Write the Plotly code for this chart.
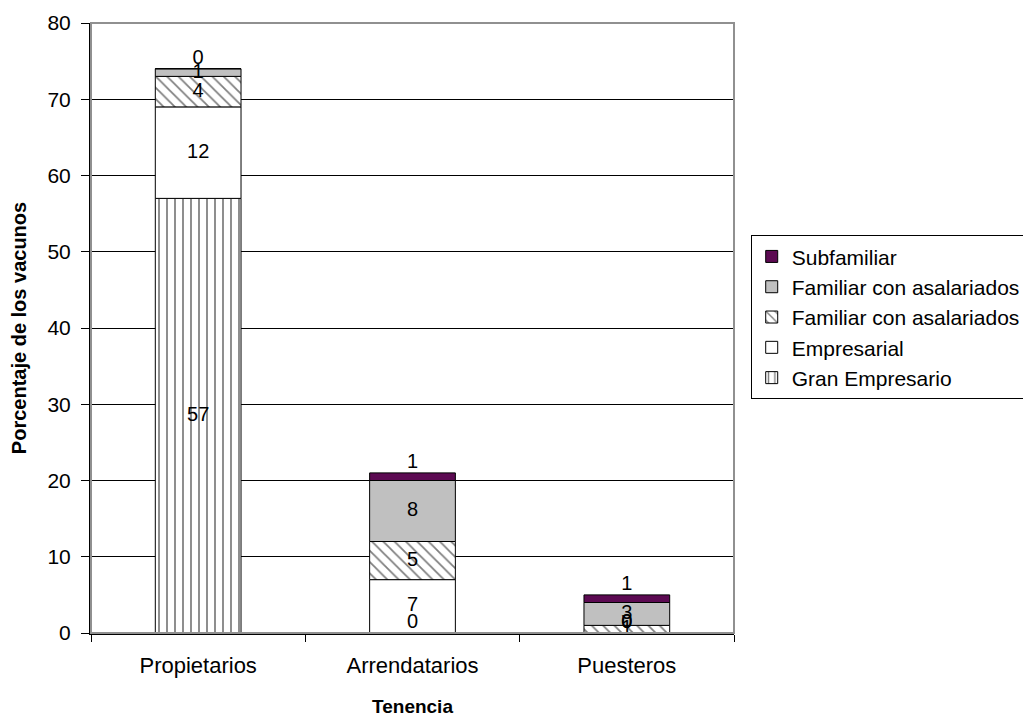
import plotly.graph_objects as go

categories = ["Propietarios", "Arrendatarios", "Puesteros"]
gran_empresario = [57, 0, 0]
empresarial = [12, 7, 0]
familiar_hatched = [4, 5, 1]
familiar_gray = [1, 8, 3]
subfamiliar = [0, 1, 1]
y_ticks = [0, 10, 20, 30, 40, 50, 60, 70, 80]

series = [
    ("Gran Empresario", gran_empresario, "white", "|"),
    ("Empresarial", empresarial, "white", ""),
    ("Familiar con asalariados", familiar_hatched, "white", "\\"),
    ("Familiar con asalariados", familiar_gray, "#c0c0c0", ""),
    ("Subfamiliar", subfamiliar, "#5c0a52", ""),
]

FONT = "Arial"
xpos = list(range(len(categories)))
fig = go.Figure()
base = [0] * len(categories)
label_x, label_y, label_t, label_pos = [], [], [], []
for name, vals, color, shape in series:
    fig.add_trace(go.Bar(
        x=xpos, y=vals, base=base[:], name=name, width=0.4,
        marker=dict(color=color, line=dict(color="black", width=1),
                    pattern=dict(shape=shape, fgcolor="black", bgcolor=color,
                                 size=8, solidity=0.22)),
        hoverinfo="skip",
    ))
    for i, v in enumerate(vals):
        label_x.append(xpos[i])
        label_t.append(str(v))
        if name == "Subfamiliar" or v == 0:
            label_y.append(base[i] + v)
            label_pos.append("top center")
        else:
            label_y.append(base[i] + v / 2)
            label_pos.append("middle center")
    base = [b + v for b, v in zip(base, vals)]

fig.add_trace(go.Scatter(
    x=label_x, y=label_y, text=label_t, mode="text", textposition=label_pos,
    textfont=dict(family=FONT, size=20, color="black"),
    showlegend=False, hoverinfo="skip", cliponaxis=False,
))

fig.update_layout(
    barmode="overlay",
    width=1031, height=717,
    margin=dict(l=83, r=305, t=15, b=92, autoexpand=False),
    paper_bgcolor="white", plot_bgcolor="white",
    font=dict(family=FONT, size=20, color="black"),
    showlegend=True,
    legend=dict(
        x=1.026, y=0.652, xanchor="left", yanchor="top",
        traceorder="reversed",
        bordercolor="black", borderwidth=1,
        font=dict(family=FONT, size=21, color="black"),
        itemwidth=30, tracegroupgap=0,
    ),
    xaxis=dict(
        range=[-0.5, 2.5], tickvals=xpos, ticktext=categories,
        ticks="", showgrid=False, zeroline=False,
        showline=True, linecolor="black", linewidth=2,
        minor=dict(tickvals=[-0.5, 0.5, 1.5, 2.5], ticks="outside",
                   ticklen=7, tickcolor="black", tickwidth=1, showgrid=False),
        title=dict(text="<b>Tenencia</b>", font=dict(size=19), standoff=22),
        tickfont=dict(size=22),
        ticklabelstandoff=12,
        automargin=False,
    ),
    yaxis=dict(
        range=[0, 80], tickvals=y_ticks,
        ticks="outside", ticklen=8, tickcolor="black",
        showgrid=True, gridcolor="black", gridwidth=1,
        zeroline=False, showline=True, linecolor="black", linewidth=2,
        title=dict(text="<b>Porcentaje de los vacunos</b>", font=dict(size=20), standoff=16),
        tickfont=dict(size=21),
        ticklabelstandoff=6,
        automargin=False,
    ),
    shapes=[dict(type="rect", xref="paper", yref="paper", x0=0, x1=1, y0=0, y1=1,
                 line=dict(color="#909090", width=2), layer="above")],
)

fig.write_html("out.html")
